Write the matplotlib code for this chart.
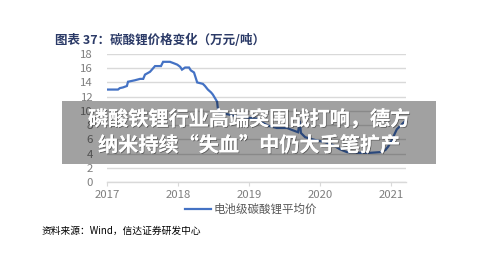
import matplotlib
matplotlib.use("Agg")
import matplotlib.pyplot as plt
import matplotlib.patheffects as pe
from matplotlib.patches import Rectangle

plt.rcParams["font.family"] = ["Noto Sans CJK SC", "DejaVu Sans"]

W, H = 500, 265

# price of battery-grade lithium carbonate, 10k yuan / t
years = [
    2017.00, 2017.155, 2017.18, 2017.225, 2017.28, 2017.296, 2017.39, 2017.465,
    2017.51, 2017.535, 2017.606, 2017.676, 2017.76, 2017.79, 2017.887, 2017.94,
    2017.99, 2018.03, 2018.056, 2018.10, 2018.155, 2018.18, 2018.225, 2018.27,
    2018.35, 2018.38, 2018.42, 2018.465, 2018.49, 2018.52, 2018.55, 2018.56,
    2018.59, 2018.66, 2018.76, 2018.87, 2019.01, 2019.11, 2019.18, 2019.27,
    2019.39, 2019.535, 2019.61, 2019.69, 2019.715, 2019.73, 2019.79, 2019.93,
    2020.07, 2020.18, 2020.28, 2020.38, 2020.52, 2020.70, 2020.85, 2020.92,
    2020.96, 2021.01, 2021.08, 2021.14, 2021.21,
]
price = [
    13.0, 13.0, 13.2, 13.3, 13.5, 14.1, 14.3, 14.5,
    14.5, 15.1, 15.5, 16.3, 16.3, 16.9, 16.9, 16.7,
    16.5, 16.2, 15.8, 16.1, 16.1, 15.7, 15.4, 14.0,
    13.8, 13.5, 13.0, 12.6, 12.3, 11.8, 11.3, 10.4,
    9.7, 9.6, 9.4, 9.2, 9.0, 8.9, 8.4, 7.9,
    7.6, 7.6, 7.3, 7.0, 8.6, 6.9, 6.3, 5.9,
    5.6, 5.2, 4.6, 4.2, 4.1, 4.1, 4.2, 4.5,
    5.0, 5.9, 7.4, 8.0, 8.7,
]
year_ticks = [2017, 2018, 2019, 2020, 2021]
y_ticks = [0, 2, 4, 6, 8, 10, 12, 14, 16, 18]

title = "图表 37：碳酸锂价格变化（万元/吨）"
series_label = "电池级碳酸锂平均价"
source = "资料来源：Wind，信达证券研发中心"
banner = ["磷酸铁锂行业高端突围战打响，德方", "纳米持续“失血”中仍大手笔扩产"]

fig = plt.figure(figsize=(W / 100, H / 100), dpi=100)
ax = fig.add_axes([107 / W, 1 - 182 / H, (406 - 107) / W, (182 - 54) / H])

ax.plot(years, price, color="#4472C4", linewidth=1.6, label=series_label,
        solid_joinstyle="miter")
ax.set_xlim(2017, 2021.21)
ax.set_ylim(0, 18)
ax.set_xticks(year_ticks)
ax.set_xticklabels([str(y) for y in year_ticks])
ax.set_yticks(y_ticks)
ax.grid(axis="y", color="#d9d9d9", linewidth=1.0)
ax.set_axisbelow(True)
for side in ("top", "right", "left"):
    ax.spines[side].set_visible(False)
ax.spines["bottom"].set_color("#d9d9d9")
ax.spines["bottom"].set_linewidth(1.0)
ax.tick_params(axis="x", length=3, color="#d9d9d9", labelcolor="#7f7f7f",
               labelsize=8.2, pad=2.5)
ax.tick_params(axis="y", length=0, labelcolor="#7f7f7f", labelsize=8.2, pad=10)

fig.legend(loc="center", bbox_to_anchor=(251 / W, 1 - 209.5 / H), frameon=False,
           fontsize=8.3, handlelength=2.3, handletextpad=0.2,
           labelcolor="#595959", borderpad=0.2)

fig.text(55 / W, 1 - 40 / H, title, fontsize=9, fontweight="bold",
         color="#2b3a67", va="center", ha="left")
fig.text(42 / W, 1 - 231 / H, source, fontsize=7, color="#000000",
         va="center", ha="left")

# translucent banner with headline on top of the chart
fig.patches.append(Rectangle((62 / W, 1 - 164 / H), (436 - 62) / W, (164 - 101) / H,
                             transform=fig.transFigure, facecolor="black",
                             alpha=0.37, edgecolor="none", zorder=5))
shadow = [pe.withSimplePatchShadow(offset=(0.6, -0.6), shadow_rgbFace="#333333",
                                   alpha=0.6), pe.Normal()]
for text, yc in zip(banner, (119, 145)):
    fig.text(249 / W, 1 - yc / H, text, fontsize=14.5, fontweight="bold",
             color="white", ha="center", va="center", zorder=6,
             path_effects=shadow)

fig.savefig("out.png", dpi=100)
